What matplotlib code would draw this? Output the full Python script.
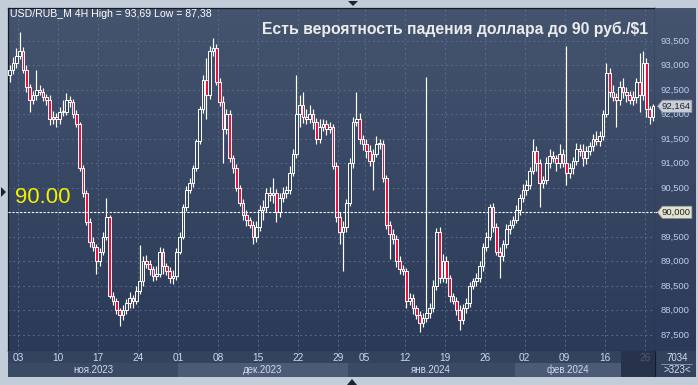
import matplotlib as mpl
mpl.use('Agg')
import matplotlib.pyplot as plt
import numpy as np
from matplotlib.colors import LinearSegmentedColormap
from matplotlib.patches import Polygon

plt.rcParams['font.family'] = ['Liberation Sans', 'DejaVu Sans']

# USD/RUB_M, 4H bars, closes
closes = [
    92.90, 93.05, 93.20, 93.30, 92.90, 92.55, 92.30, 92.40, 92.50, 92.45,
    92.35, 92.30, 91.90, 91.95, 91.90, 92.05, 92.05, 92.30, 92.25, 92.00,
    91.80, 90.90, 90.40, 89.80, 89.40, 89.30, 89.00, 89.20, 89.50, 89.90,
    88.30, 88.20, 88.00, 87.90, 88.00, 88.15, 88.25, 88.20, 88.40, 88.60,
    89.00, 88.95, 88.85, 88.70, 88.75, 89.20, 88.90, 88.80, 88.65, 88.70,
    89.20, 89.50, 90.10, 90.45, 90.60, 90.90, 91.45, 92.10, 92.70, 92.40,
    93.30, 93.35, 92.65, 92.25, 91.70, 92.00, 91.10, 90.90, 90.50, 90.20,
    89.95, 89.85, 89.75, 89.50, 89.70, 90.05, 90.10, 90.40, 90.35, 90.40,
    90.00, 90.30, 90.40, 90.45, 90.80, 91.20, 92.00, 92.20, 91.95, 91.90,
    92.00, 91.85, 91.50, 91.75, 91.80, 91.70, 91.75, 90.95, 89.90, 89.60,
    89.70, 90.20, 91.00, 91.85, 91.90, 91.50, 91.40, 91.25, 91.05, 91.20,
    91.40, 91.40, 90.70, 89.75, 89.55, 89.45, 89.00, 88.85, 88.80, 88.20,
    88.25, 88.05, 87.90, 87.75, 87.85, 87.95, 88.05, 88.50, 89.60, 88.65,
    89.00, 88.65, 88.30, 88.20, 88.00, 87.80, 88.05, 88.15, 88.50, 88.60,
    88.65, 88.90, 89.30, 89.50, 90.10, 89.70, 89.20, 89.10, 89.35, 89.65,
    89.75, 89.85, 90.05, 90.30, 90.45, 90.55, 90.85, 91.25, 91.00, 90.60,
    90.65, 91.00, 91.15, 91.10, 91.00, 91.20, 91.00, 90.80, 90.90, 91.05,
    91.30, 91.25, 91.10, 91.25, 91.35, 91.50, 91.45, 91.55, 92.00, 92.85,
    92.45, 92.35, 92.30, 92.55, 92.45, 92.40, 92.30, 92.35, 92.65, 92.40,
    93.05, 92.10, 91.95, 92.16,
]
first_open = 92.80

# wick length above / below the body, kopecks
wick_up = [
    10, 12, 15, 39, 8, 10, 6, 8, 40, 10,
    8, 6, 10, 12, 8, 10, 25, 13, 8, 6,
    8, 5, 6, 5, 8, 10, 6, 8, 10, 39,
    5, 8, 6, 5, 10, 8, 12, 6, 10, 73,
    10, 12, 8, 6, 15, 10, 8, 6, 8, 12,
    8, 10, 6, 8, 10, 6, 5, 8, 10, 45,
    10, 20, 8, 10, 12, 10, 8, 6, 8, 6,
    8, 10, 6, 8, 12, 10, 15, 10, 12, 30,
    8, 10, 12, 8, 15, 10, 80, 20, 25, 15,
    20, 10, 8, 15, 10, 8, 10, 6, 8, 10,
    12, 8, 10, 10, 56, 12, 8, 10, 12, 10,
    15, 10, 8, 6, 8, 10, 8, 10, 8, 6,
    10, 8, 6, 8, 10, 482, 10, 12, 8, 10,
    15, 10, 8, 6, 8, 10, 8, 10, 8, 6,
    12, 10, 8, 10, 8, 10, 8, 10, 8, 12,
    10, 8, 10, 8, 12, 10, 8, 25, 10, 8,
    10, 12, 15, 10, 8, 20, 10, 240, 10, 8,
    12, 10, 15, 10, 8, 10, 15, 10, 8, 20,
    10, 15, 8, 12, 20, 10, 8, 12, 10, 60,
    25, 10, 8, 6,
]
wick_dn = [
    15, 8, 10, 8, 6, 10, 25, 8, 10, 6,
    8, 10, 12, 10, 15, 10, 8, 6, 10, 8,
    6, 5, 8, 6, 10, 8, 25, 10, 8, 6,
    5, 10, 8, 23, 10, 8, 10, 15, 8, 6,
    10, 8, 12, 10, 8, 6, 15, 8, 10, 12,
    8, 6, 5, 8, 6, 8, 5, 6, 8, 50,
    8, 10, 6, 8, 70, 10, 8, 10, 6, 8,
    10, 12, 8, 15, 10, 8, 20, 10, 12, 15,
    20, 10, 8, 10, 8, 6, 10, 25, 12, 10,
    8, 15, 10, 8, 10, 12, 8, 6, 10, 25,
    80, 10, 8, 10, 8, 10, 12, 15, 10, 60,
    8, 10, 8, 10, 50, 10, 12, 10, 8, 15,
    10, 12, 8, 20, 10, 8, 10, 8, 8, 10,
    8, 10, 12, 8, 10, 20, 8, 10, 8, 6,
    10, 8, 10, 8, 6, 10, 8, 45, 10, 8,
    10, 8, 6, 10, 8, 10, 8, 6, 15, 50,
    10, 8, 10, 8, 15, 10, 8, 25, 10, 12,
    8, 10, 15, 12, 8, 10, 8, 10, 8, 6,
    10, 8, 55, 10, 12, 15, 8, 10, 12, 35,
    10, 15, 15, 8,
]

week_start = [3, 15, 27, 39, 51, 63, 75, 87, 99, 107, 119, 131, 143, 155, 167, 179, 191]
week_labels = ['03', '10', '17', '24', '01', '08', '15', '22', '29',
               '05', '12', '19', '26', '02', '09', '16', '26']
month_start = [0, 51, 102, 152, 184]
month_labels = ['ноя.2023', 'дек.2023', 'янв.2024', 'фев.2024']
price_levels = [87.5, 88.0, 88.5, 89.0, 89.5, 90.0, 90.5, 91.0, 91.5, 92.0, 92.5, 93.0, 93.5]
last_price = 92.164
target = 90.0

W, H = 698, 385
BG_TOP, BG_BOT = '#44536e', '#2b3a58'
FRAME = '#c3cdd9'


def box(x0, y0, x1, y1):
    # pixel box (top-left origin) -> figure rect
    return [x0 / W, 1 - y1 / H, (x1 - x0) / W, (y1 - y0) / H]


def gradient(a, top, bot):
    cmap = LinearSegmentedColormap.from_list('g', [bot, top])
    a.imshow(np.linspace(0, 1, 64).reshape(-1, 1), cmap=cmap, origin='lower',
             extent=[0, 1, 0, 1], transform=a.transAxes, aspect='auto', zorder=0)


fig = plt.figure(figsize=(W / 100, H / 100), dpi=100, facecolor=FRAME)

ax = fig.add_axes(box(8, 7.5, 655, 351))
axr = fig.add_axes(box(655, 7.5, 696, 351))
dax = fig.add_axes(box(8, 351, 655, 377))
cax = fig.add_axes(box(655, 351, 696, 377))

n = len(closes)
x = np.arange(n)
c = np.array(closes)
o = np.r_[first_open, c[:-1]]
hi = np.maximum(o, c) + np.array(wick_up) / 100
lo = np.minimum(o, c) - np.array(wick_dn) / 100
xlim = (-0.5, n - 0.4)
ylim = (87.17, 94.18)

# main price panel
gradient(ax, BG_TOP, BG_BOT)
ax.set_xlim(*xlim)
ax.set_ylim(*ylim)
for p in price_levels:
    ax.axhline(p, color='#5a6a88', lw=0.7, ls=(0, (2, 3)), zorder=1)
for w in week_start:
    ax.axvline(w - 0.5, color='#5a6a88', lw=0.7, ls=(0, (2, 3)), zorder=1)

ax.vlines(x, lo, hi, color='white', lw=0.85, zorder=3)
bull = c >= o
bottom = np.minimum(o, c)
height = np.maximum(np.abs(c - o), 0.02)
ax.bar(x[bull], height[bull], bottom=bottom[bull], width=0.75,
       facecolor='#3a4862', edgecolor='white', lw=0.7, zorder=4)
ax.bar(x[~bull], height[~bull], bottom=bottom[~bull], width=0.75,
       facecolor='#e8123e', edgecolor='white', lw=0.7, zorder=4)

ax.axhline(target, color='white', lw=0.8, ls=(0, (2, 1.5)), zorder=5)
ax.set_xticks([])
ax.set_yticks([])
for s in ax.spines.values():
    s.set_color('#141a26')
    s.set_linewidth(0.9)

# price scale
gradient(axr, BG_TOP, BG_BOT)
axr.set_xlim(0, 1)
axr.set_ylim(*ylim)
axr.set_xticks([])
axr.set_yticks([])
for s in axr.spines.values():
    s.set_visible(False)
for p in price_levels:
    axr.text(0.14, p, f'{p:.3f}'.replace('.', ','), color='#b9cff0',
             fontsize=6.8, va='center', ha='left', zorder=2)
tag_h = 0.125
axr.plot([0, 0.1], [target, target], color='white', lw=0.8, ls=(0, (2, 1.5)), zorder=2)
for val, col in [(target, '#e4e4cc'), (last_price, '#c9ced6')]:
    axr.add_patch(Polygon([(0.06, val), (0.18, val + tag_h), (0.9, val + tag_h),
                           (0.9, val - tag_h), (0.18, val - tag_h)],
                          closed=True, facecolor=col, edgecolor='#8a8f99', lw=0.5, zorder=3))
    axr.text(0.17, val, f'{val:.3f}'.replace('.', ','), color='#1c2230',
             fontsize=6.8, va='center', ha='left', zorder=4)

# date scale
dax.set_facecolor('#34435d')
dax.set_xlim(*xlim)
dax.set_ylim(0, 1)
dax.set_xticks([])
dax.set_yticks([])
for s in dax.spines.values():
    s.set_visible(False)
band_cols = ['#3a4964', '#4b5a76']
for i, lab in enumerate(month_labels):
    a, b = month_start[i] - 0.5, month_start[i + 1] - 0.5
    dax.axvspan(a, b, ymin=0, ymax=0.52, color=band_cols[i % 2], lw=0, zorder=1)
    dax.text((a + b) / 2, 0.26, lab, color='#cfdaec', fontsize=7,
             ha='center', va='center', zorder=2)
for w, lab in zip(week_start, week_labels):
    dax.text(w - 0.5, 0.74, lab, color='#c9d8f0', fontsize=7.3,
             ha='center', va='center', zorder=2)
dax.axvspan(month_start[-1] - 0.5, xlim[1], color='#222e46', alpha=0.75, lw=0, zorder=3)

cax.set_facecolor('#34435d')
cax.set_xlim(0, 1)
cax.set_ylim(0, 1)
cax.set_xticks([])
cax.set_yticks([])
for s in cax.spines.values():
    s.set_visible(False)
cax.axvline(0, color='#141a26', lw=0.9)
cax.text(0.55, 0.74, '7034', color='#d3def0', fontsize=7, ha='center', va='center')
cax.plot([0.15, 0.9], [0.5, 0.5], color='#8c9ab2', lw=0.6)
cax.text(0.55, 0.26, '>323<', color='#d3def0', fontsize=7, ha='center', va='center')

# captions
fig.text(10 / W, 1 - 14 / H, 'USD/RUB_M 4H High = 93,69 Low = 87,38',
         color='white', fontsize=7.6, ha='left', va='center')
fig.text(648 / W, 1 - 29 / H, 'Есть вероятность падения доллара до 90 руб./$1',
         color='#ececec', fontsize=11.3, fontweight='bold', ha='right', va='center')
fig.text(15 / W, 1 - 198 / H, '90.00', color='#f2f200', fontsize=16,
         ha='left', va='center')

# small navigation arrows on the frame
for pts in ([(348, 1), (358, 1), (353, 6)],
            [(347, 385), (357, 385), (352, 379)],
            [(1, 187), (1, 197), (6, 192)]):
    fig.add_artist(Polygon([(px / W, 1 - py / H) for px, py in pts], closed=True,
                           facecolor='#1a2233', edgecolor='none',
                           transform=fig.transFigure))

fig.savefig('out.png', dpi=100, facecolor=FRAME)
